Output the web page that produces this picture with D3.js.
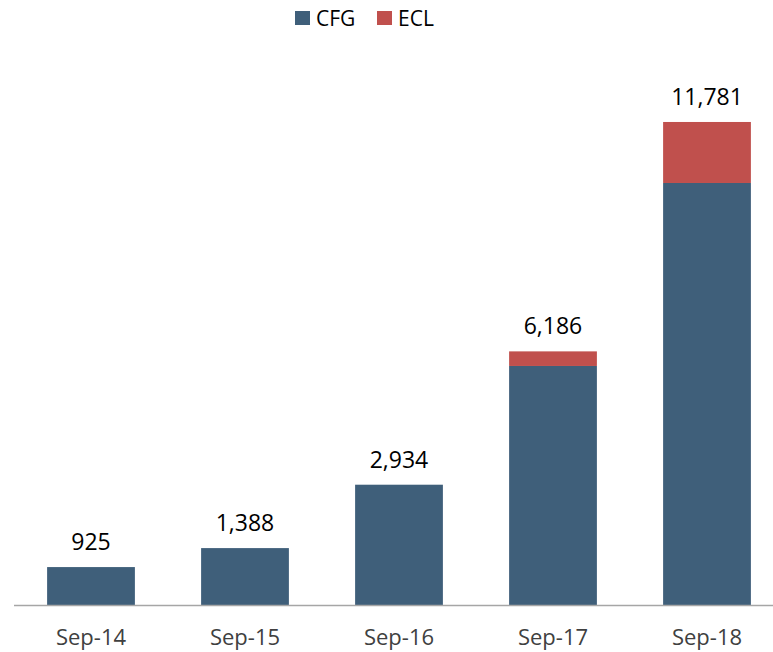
<!DOCTYPE html>
<html>
<head>
<meta charset="utf-8">
<script src="https://cdn.jsdelivr.net/npm/d3@7"></script>
<style>
    body { margin: 0; background: #fff; }
    text { font-family: "Open Sans", sans-serif; }
</style>
</head>
<body>
<script>
const CATEGORIES = ["Sep-14", "Sep-15", "Sep-16", "Sep-17", "Sep-18"];
const CFG = [925, 1388, 2934, 5830, 10293];
const ECL = [0, 0, 0, 356, 1488];
const SERIES = ["CFG", "ECL"];

const COLORS = { CFG: "#3f5f7a", ECL: "#c0504d" };

const WIDTH = 773;
const HEIGHT = 652;
const BASELINE = 605;

const rows = CATEGORIES.map((cat, i) => ({ cat, CFG: CFG[i], ECL: ECL[i] }));
const stacked = d3.stack().keys(SERIES)(rows);

const x = d3.scaleBand()
    .domain(CATEGORIES)
    .range([14, 784])
    .paddingInner(0.43)
    .paddingOuter(0.215);

const y = d3.scaleLinear()
    .domain([0, 12000])
    .range([BASELINE, 113]);

const svg = d3.select("body").append("svg")
    .attr("width", WIDTH)
    .attr("height", HEIGHT)
    .style("display", "block");

// Bars
svg.append("g")
    .selectAll("g")
    .data(stacked)
    .join("g")
    .attr("fill", d => COLORS[d.key])
    .selectAll("rect")
    .data(d => d)
    .join("rect")
    .attr("x", d => x(d.data.cat))
    .attr("y", d => y(d[1]))
    .attr("width", x.bandwidth())
    .attr("height", d => y(d[0]) - y(d[1]));

// Axis line and labels
svg.append("line")
    .attr("x1", 14).attr("x2", WIDTH)
    .attr("y1", BASELINE + 0.5).attr("y2", BASELINE + 0.5)
    .attr("stroke", "#a6a6a6")
    .attr("stroke-width", 1.5);

svg.append("g")
    .selectAll("text")
    .data(CATEGORIES)
    .join("text")
    .attr("x", d => x(d) + x.bandwidth() / 2)
    .attr("y", 645)
    .attr("text-anchor", "middle")
    .attr("fill", "#404040")
    .style("font-size", "22px")
    .text(d => d);

// Totals above bars
svg.append("g")
    .selectAll("text")
    .data(rows)
    .join("text")
    .attr("x", d => x(d.cat) + x.bandwidth() / 2)
    .attr("y", d => y(d.CFG + d.ECL) - 17)
    .attr("text-anchor", "middle")
    .attr("fill", "#000")
    .style("font-size", "23px")
    .text(d => d3.format(",")(d.CFG + d.ECL));

// Legend
const legend = svg.append("g")
    .selectAll("g")
    .data(SERIES)
    .join("g")
    .attr("transform", (d, i) => `translate(${295 + i * 82}, 0)`);

legend.append("rect")
    .attr("x", 0).attr("y", 11)
    .attr("width", 15).attr("height", 14)
    .attr("fill", d => COLORS[d]);

legend.append("text")
    .attr("x", 21).attr("y", 26)
    .attr("fill", "#000")
    .style("font-size", "21px")
    .text(d => d);
</script>
</body>
</html>
